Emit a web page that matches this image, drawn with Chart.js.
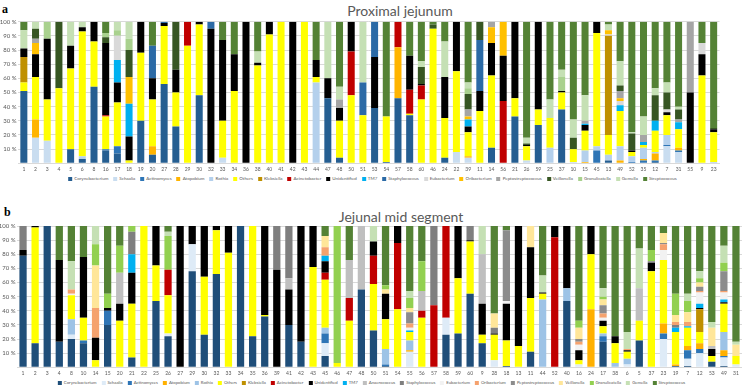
<!DOCTYPE html>
<html>
<head>
<meta charset="utf-8">
<script src="https://cdn.jsdelivr.net/npm/chart.js@4.4.0/dist/chart.umd.min.js"></script>
<style>
body { margin:0; width:742px; height:386px; overflow:hidden; background:#fff; position:relative; font-family:Lato, sans-serif; }
canvas { position:absolute; left:0; }
#chartA { top:0; }
#chartB { top:195px; }
.panel { position:absolute; font-family:"Liberation Serif", serif; font-weight:bold; font-size:12px; line-height:12px; color:#000; }
.title { position:absolute; font-size:14px; line-height:14px; color:#595959; white-space:nowrap; transform:translateX(-50%); }
.legend { position:absolute; display:flex; align-items:center; line-height:6px; color:#595959; white-space:nowrap; transform:translateX(-50%); }
.legend .item { display:flex; align-items:center; margin-right:5px; }
.legend i { display:inline-block; width:4px; height:4px; margin-right:2px; }
#legendA { font-size:4.5px; }
#legendB { font-size:4.3px; }
</style>
</head>
<body>
<div class="panel" style="left:2px;top:3px;">a</div>
<div class="panel" style="left:4px;top:206px;">b</div>
<div class="title" style="left:400px;top:4px;">Proximal jejunum</div>
<div class="title" style="left:401px;top:210px;">Jejunal mid segment</div>
<canvas id="chartA" width="742" height="176"></canvas>
<canvas id="chartB" width="742" height="181"></canvas>
<div class="legend" id="legendA" style="left:375px;top:176px;"></div>
<div class="legend" id="legendB" style="left:374px;top:380px;"></div>
<script>
// ---- proximal jejunum (a) ----
var topLabels = ['1','2','3','4','5','6','8','16','17','18','19','20','27','28','29','30','32','33','34','36',
  '38','40','41','42','43','44','47','48','50','51','53','54','57','58','60','46','24','22','39','11',
  '14','56','21','26','59','25','37','10','15','45','13','49','52','35','12','7','31','55','9','23'];

var topCory = [51,0,0,0,10,3,54,9,7,0, 30,6,56,26,0,48,0,0,0,0, 0,0,0,0,0,0,46,4,0,0, 39,1,46,34,0,0,4,0,0,0, 11,0,33,0,27,0,38,0,0,0, 2,0,0,0,1,0,0,0,0,0];
var topSchaalia = [0,18,16,0,0,0,0,0,0,0, 0,0,0,0,0,0,0,4,0,0, 0,0,0,0,0,0,0,0,0,0, 0,0,0,0,0,0,0,8,4,0, 0,0,0,2,0,0,0,1,0,0, 0,0,0,0,0,12,8,0,0,0];
var topActino = [0,0,0,0,0,0,0,1,5,0, 0,0,0,0,0,0,0,0,0,0, 0,0,0,0,0,0,0,0,0,0, 0,0,0,0,0,0,0,0,0,0, 0,0,0,0,0,0,0,0,0,9, 0,0,1,2,1,1,1,0,0,0];
var topAtopo = [0,13,0,0,0,0,0,0,0,0, 0,6,0,0,0,0,0,0,0,0, 0,0,0,0,0,0,0,0,0,0, 0,0,36,0,0,0,0,0,1,0, 0,0,0,0,0,0,0,0,1,0, 0,2,0,1,5,0,2,0,0,0];
var topRothia = [0,0,0,0,0,2,0,0,0,0, 0,0,0,0,0,0,0,0,0,0, 0,0,0,0,0,57,0,0,0,0, 0,0,0,0,0,0,0,0,0,0, 0,0,0,0,0,11,0,0,8,3, 4,10,4,8,1,7,0,0,0,1];
var topOthers = [6,30,29,53,57,88,32,23,31,2, 48,33,41,24,83,50,0,26,51,0, 69,91,100,0,100,4,0,26,48,34, 0,32,0,1,45,95,28,57,17,37, 51,0,13,10,11,21,12,9,14,80, 14,25,3,2,15,14,13,0,62,21];
var topKleb = [18,0,0,0,0,0,0,0,0,0, 0,0,0,0,0,0,0,0,0,0, 0,0,0,0,0,0,0,0,0,0, 0,0,0,0,0,0,0,0,0,0, 0,0,0,0,0,0,0,0,0,0, 70,0,0,0,0,0,0,0,0,0];
var topAcin = [0,0,0,0,0,0,0,1,0,0, 0,0,0,0,17,0,0,0,0,0, 0,0,0,0,0,0,0,0,31,0, 0,0,18,17,10,0,0,0,0,0, 0,44,0,0,0,0,0,0,0,0, 0,0,0,0,0,0,0,0,0,0];
var topUnid = [6,16,43,0,16,3,14,51,14,17, 22,15,2,16,0,2,95,57,26,100, 2,9,0,100,0,12,14,9,21,0, 36,0,0,24,1,0,29,35,4,14, 23,32,54,1,62,0,1,0,4,8, 0,0,1,0,0,2,0,50,15,2];
var topTM7 = [0,0,0,0,0,0,0,0,16,23, 0,0,0,0,0,0,0,0,0,0, 0,0,0,0,0,0,0,0,0,0, 0,0,0,0,0,0,0,0,5,0, 0,0,0,0,0,0,0,0,1,0, 0,4,0,2,7,0,5,0,0,0];
var topStaph = [0,0,0,0,0,0,0,0,0,0, 0,23,1,0,0,0,5,0,0,0, 0,0,0,0,0,0,0,0,0,23, 25,0,0,0,0,0,0,0,0,36, 0,0,0,0,0,0,0,0,0,0, 0,0,0,0,0,0,0,0,0,0];
var topEubac = [0,0,0,0,0,0,0,0,17,0, 0,0,0,0,0,0,0,0,0,0, 0,0,0,0,0,0,0,0,0,0, 0,0,0,0,0,0,0,0,0,0, 0,0,0,0,0,0,0,0,0,0, 1,3,0,0,0,2,0,0,8,0];
var topOribac = [0,8,0,0,0,0,0,0,0,19, 0,0,0,0,0,0,0,0,0,0, 0,0,0,0,0,0,0,0,0,0, 0,0,0,0,0,0,0,0,2,0, 11,24,0,0,0,0,0,0,0,0, 3,2,0,0,0,0,0,0,0,0];
var topPepto = [0,3,0,0,0,0,0,0,0,0, 0,0,0,0,0,0,0,0,0,0, 0,0,0,0,0,0,0,6,0,0, 0,0,0,0,0,0,0,0,5,0, 4,0,0,0,0,0,0,0,2,0, 0,5,0,5,0,0,2,50,0,0];
var topVeil = [0,7,0,47,0,0,0,4,0,19, 0,0,0,34,0,0,0,0,0,0, 0,0,0,0,0,0,0,0,0,0, 0,0,0,0,12,3,0,0,11,13, 0,0,0,1,0,0,0,8,0,0, 0,4,12,0,18,12,7,0,0,1];
var topGranu = [0,0,12,0,0,0,0,3,4,8, 0,0,0,0,0,0,0,0,0,0, 0,0,0,0,0,0,0,0,0,0, 0,0,0,0,0,0,0,0,4,0, 0,0,0,0,0,0,10,0,0,0, 0,0,0,0,0,0,0,0,0,0];
var topGemella = [13,5,0,0,17,4,0,0,6,12, 0,0,0,0,0,0,0,0,0,0, 8,0,0,0,0,0,40,9,0,43, 0,0,0,0,4,0,25,0,4,0, 0,0,0,4,0,13,5,13,18,0, 4,17,1,13,5,7,2,0,0,0];
var topStrep = [6,0,0,0,0,0,0,8,0,0, 0,17,0,0,0,0,0,13,23,0, 21,0,0,0,0,27,0,46,0,0, 0,67,0,24,28,2,14,0,43,0, 0,0,0,82,0,55,34,69,52,0, 2,28,78,67,47,43,60,0,15,75];

var topNames = ['Corynebacterium','Schaalia','Actinomyces','Atopobium','Rothia','Others','Klebsiella','Acinetobacter',
  'Unidentified','TM7','Staphylococcus','Eubacterium','Oribacterium','Peptostreptococcus','Veillonella','Granulicatella','Gemella','Streptococcus'];
var topColors = ['#255E91','#C9DDF0','#2E75B6','#FFB400','#B4D0EC','#FFFF00','#BF9000','#C00000',
  '#000000','#00B0F0','#2B6AA6','#D9D9D9','#FFC000','#A5A5A5','#375623','#A9D18E','#C5E0B4','#548235'];
var topSeries = [topCory, topSchaalia, topActino, topAtopo, topRothia, topOthers, topKleb, topAcin,
  topUnid, topTM7, topStaph, topEubac, topOribac, topPepto, topVeil, topGranu, topGemella, topStrep];

// ---- jejunal mid segment (b) ----
var botLabels = ['1','2','3','4','8','10','14','15','20','21','22','25','26','27','29','30','32','33','34',
  '35','36','39','41','42','43','45','46','47','48','50','51','54','55','56','57','58','59','60','9',
  '28','18','13','11','44','52','40','16','24','17','38','6','5','37','23','19','7','12','53','49','31'];

var botCory = [79,17,100,18,20,17,0,30,0,7, 0,47,22,0,68,23,66,0,100,22, 36,0,30,18,0,8,0,0,55,26, 1,0,0,0,0,23,24,52,17,0, 1,0,11,0,0,47,0,0,18,0, 0,19,0,0,1,1,0,4,1,0];
var botSchaalia = [0,0,0,0,3,0,0,0,0,0, 0,0,2,0,19,0,0,0,0,0, 0,0,0,0,0,9,0,0,0,0, 0,0,11,0,0,12,0,0,0,5, 0,0,0,0,0,0,2,0,0,0, 2,0,0,20,0,5,10,0,6,2];
var botActino = [0,0,0,0,0,2,0,10,0,0, 0,0,0,0,0,0,0,0,0,0, 0,0,0,0,0,7,0,0,0,0, 1,0,0,0,0,0,0,0,0,0, 0,0,0,0,0,0,0,0,4,0, 0,0,0,4,0,6,3,0,1,0];
var botAtopo = [0,0,0,0,0,0,0,0,0,0, 0,0,0,0,0,0,0,0,0,0, 0,0,0,0,0,0,0,0,0,0, 0,0,1,0,0,0,0,0,0,0, 0,0,0,0,0,0,0,41,0,0, 0,0,0,7,1,3,4,0,4,0];
var botRothia = [0,0,0,0,11,0,0,0,0,0, 0,0,0,0,0,0,0,0,0,0, 0,0,0,0,0,4,0,0,0,0, 11,0,7,0,0,0,0,0,0,0, 0,0,0,48,0,9,0,0,2,3, 4,0,0,0,0,0,0,0,13,0];
var botOthers = [0,82,0,0,17,16,5,0,33,38, 100,25,27,0,0,41,31,81,0,78, 1,0,0,0,71,34,3,33,0,33, 21,41,6,35,0,0,39,37,6,18, 18,15,38,4,0,0,3,39,5,14, 5,14,68,45,23,13,8,4,20,6];
var botKleb = [0,0,0,0,0,0,0,0,0,0, 0,0,0,0,0,0,0,0,0,0, 0,0,0,0,0,0,0,0,0,0, 0,0,0,0,0,0,0,0,0,0, 0,0,0,0,0,0,0,0,0,0, 0,0,0,0,0,0,16,0,0,0];
var botAcin = [0,0,0,0,0,0,0,0,0,0, 0,0,18,0,0,0,0,0,0,0, 0,0,0,0,0,5,0,16,0,20, 0,47,0,5,44,65,0,0,0,0, 0,0,0,0,92,0,0,0,0,0, 0,0,0,0,0,0,0,0,0,0];
var botUnid = [4,1,0,58,0,43,16,2,12,22, 0,28,0,100,13,36,3,19,0,0, 63,69,25,82,29,8,0,0,0,10, 18,12,0,0,0,0,37,1,22,1, 26,85,36,1,8,44,7,20,4,5, 1,0,6,0,0,0,1,5,1,0];
var botTM7 = [0,0,0,0,0,0,0,0,0,13, 0,0,0,0,0,0,0,0,0,0, 0,0,0,0,0,4,0,0,0,0, 0,0,1,0,0,0,0,0,0,0, 0,0,0,0,0,0,0,0,0,0, 0,0,0,0,3,1,3,0,2,0];
var botAnaero = [0,0,0,0,0,0,0,0,22,0, 0,0,0,0,0,0,0,0,0,0, 0,0,8,0,0,0,0,27,45,0, 0,0,0,14,0,0,0,0,35,0, 0,0,0,0,0,0,0,0,0,0, 0,23,0,0,0,0,0,2,0,0];
var botStaph = [17,0,0,0,0,0,0,0,0,16, 0,0,0,0,0,0,0,0,0,0, 0,31,37,0,0,0,0,0,0,0, 0,0,0,0,56,0,0,10,0,4, 0,0,0,0,0,0,0,0,0,0, 0,0,1,0,2,0,0,0,0,0];
var botEubac = [0,0,0,0,1,0,0,0,0,0, 0,0,0,0,0,0,0,0,0,0, 0,0,0,0,0,0,0,0,0,0, 0,0,2,0,0,0,0,0,0,0, 2,0,0,0,0,0,4,0,2,0, 0,0,0,7,0,0,8,0,5,0];
var botOribac = [0,0,0,0,3,0,21,0,0,0, 0,0,0,0,0,0,0,0,0,0, 0,0,0,0,0,6,0,0,0,0, 0,0,3,0,0,0,0,0,0,0, 0,0,0,0,0,0,2,0,3,0, 1,0,0,4,2,3,1,0,1,0];
var botPepto = [0,0,0,0,0,0,0,0,0,0, 0,0,0,0,0,0,0,0,0,0, 0,0,0,0,0,0,0,0,0,0, 0,0,8,0,0,0,0,0,0,0, 50,0,0,0,0,0,2,0,6,0, 0,0,0,1,0,0,3,0,14,0];
var botVeil = [0,0,0,0,0,0,30,0,0,0, 0,0,0,0,0,0,0,0,0,0, 0,0,0,0,0,8,0,0,0,0, 3,0,3,0,0,0,0,0,0,10, 0,0,15,0,0,0,8,0,4,0, 0,0,0,7,5,7,3,13,0,8];
var botGranu = [0,0,0,0,0,0,15,10,19,4, 0,0,24,0,0,0,0,0,0,0, 0,0,0,0,0,0,97,0,0,0, 3,0,7,21,0,0,0,0,0,0, 0,0,0,0,0,0,5,0,2,0, 0,0,8,0,15,8,3,0,6,0];
var botGemella = [0,0,0,0,20,0,13,0,0,0, 0,0,3,0,0,0,0,0,0,0, 0,0,0,0,0,0,0,0,0,11, 0,0,5,0,0,0,0,0,20,0, 0,0,0,12,0,0,0,0,6,0, 12,28,0,0,0,5,5,4,12,2];
var botStrep = [0,0,0,24,25,22,0,48,14,0, 0,0,4,0,0,0,0,0,0,0, 0,0,0,0,0,7,0,24,0,0, 42,0,46,25,0,0,0,0,0,62, 3,0,0,35,0,0,67,0,44,78, 75,16,17,5,48,48,32,68,14,82];

var botNames = ['Corynebacterium','Schaalia','Actinomyces','Atopobium','Rothia','Others','Klebsiella','Acinetobacter',
  'Unidentified','TM7','Anaerococcus','Staphylococcus','Eubacterium','Oribacterium','Peptostreptococcus','Veillonella',
  'Granulicatella','Gemella','Streptococcus'];
var botColors = ['#1F4E79','#DEEBF7','#2E75B6','#FFB000','#9DC3E6','#FFFF00','#BF9000','#C00000',
  '#000000','#00B0F0','#BFBFBF','#7F7F7F','#F2F2F2','#F5A26E','#8C8C8C','#FFE699',
  '#92D050','#C5E0B4','#548235'];
var botSeries = [botCory, botSchaalia, botActino, botAtopo, botRothia, botOthers, botKleb, botAcin,
  botUnid, botTM7, botAnaero, botStaph, botEubac, botOribac, botPepto, botVeil, botGranu, botGemella, botStrep];

Chart.defaults.font.family = 'Lato, sans-serif';
Chart.defaults.color = '#595959';

function buildSets(names, colors, series) {
    return names.map(function (n, i) {
        return {
            label: n,
            data: series[i],
            backgroundColor: colors[i],
            borderWidth: 0,
            barPercentage: 0.6,
            categoryPercentage: 1
        };
    });
}

function drawChart(id, labels, names, colors, series, pad, yWidth, xHeight) {
    var ctx = document.getElementById(id).getContext('2d');
    return new Chart(ctx, {
        type: 'bar',
        data: { labels: labels, datasets: buildSets(names, colors, series) },
        options: {
            responsive: false,
            animation: false,
            layout: { padding: pad },
            plugins: { legend: { display: false }, title: { display: false }, tooltip: { enabled: false } },
            scales: {
                x: {
                    stacked: true,
                    grid: { display: false, drawTicks: false },
                    border: { color: '#D9D9D9' },
                    ticks: { font: { size: 5 }, maxRotation: 0, autoSkip: false, padding: 3 },
                    afterFit: function (s) { s.height = xHeight; }
                },
                y: {
                    stacked: true,
                    min: 0,
                    max: 100,
                    grid: { color: '#D9D9D9', drawTicks: false },
                    border: { display: false },
                    ticks: {
                        stepSize: 10,
                        font: { size: 6 },
                        padding: 1.5,
                        callback: function (v) { return v === 0 ? '' : v + ' %'; }
                    },
                    afterFit: function (s) { s.width = yWidth; }
                }
            }
        }
    });
}

function makeLegend(id, names, colors) {
    var box = document.getElementById(id);
    names.forEach(function (n, i) {
        var item = document.createElement('span');
        item.className = 'item';
        var sw = document.createElement('i');
        sw.style.background = colors[i];
        item.appendChild(sw);
        item.appendChild(document.createTextNode(n));
        box.appendChild(item);
    });
}

drawChart('chartA', topLabels, topNames, topColors, topSeries, { left: 0, right: 22.5, top: 21.7, bottom: 0 }, 18, 12.7);
drawChart('chartB', botLabels, botNames, botColors, botSeries, { left: 0, right: 0, top: 31, bottom: 0 }, 17, 8.7);
makeLegend('legendA', topNames, topColors);
makeLegend('legendB', botNames, botColors);
</script>
</body>
</html>
